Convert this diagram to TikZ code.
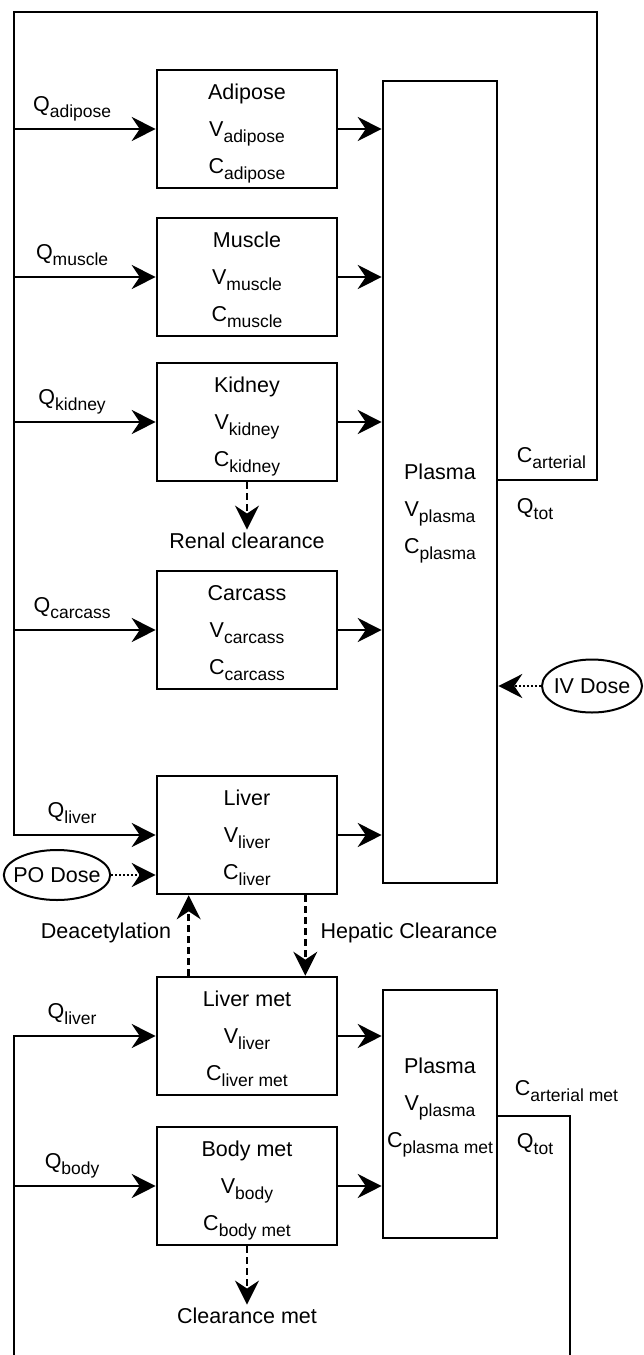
\documentclass[tikz,border=0pt]{standalone}
\usepackage{fontspec}
\setmainfont{Liberation Sans}
\usetikzlibrary{arrows.meta,shapes.geometric}
\newcommand{\sbs}[1]{\raisebox{-6pt}{\fontsize{17.5}{17.5}\selectfont #1}}
\begin{document}
\begin{tikzpicture}[x=1pt,y=-1pt,font=\fontsize{21.5}{37}\selectfont,
    organ/.style={draw,line width=2.6pt,minimum width=180pt,minimum height=118pt,align=center,inner sep=0pt,text depth=0pt},
    wire/.style={line width=2.6pt},
    flow/.style={line width=2.6pt,-{Stealth[length=24pt,width=24pt,inset=8pt]}},
    dflow/.style={flow,dash pattern=on 7pt off 4pt},
    pflow/.style={flow,line width=2pt,dash pattern=on 2pt off 2pt},
    dose/.style={draw,ellipse,line width=2pt,inner xsep=-6pt,inner ysep=0pt},
    qlab/.style={pos=.41,anchor=base,yshift=18pt}]
    \useasboundingbox (0,0) rectangle (644,1355);
    % compartments
    \node[organ] (adipose) at (247,129) {Adipose\\V\sbs{adipose}\\C\sbs{adipose}};
    \node[organ] (muscle) at (247,277) {Muscle\\V\sbs{muscle}\\C\sbs{muscle}};
    \node[organ] (kidney) at (247,422) {Kidney\\V\sbs{kidney}\\C\sbs{kidney}};
    \node[organ] (carcass) at (247,630) {Carcass\\V\sbs{carcass}\\C\sbs{carcass}};
    \node[organ] (liver) at (247,835) {Liver\\V\sbs{liver}\\C\sbs{liver}};
    \node[organ] (livermet) at (247,1036) {Liver met\\V\sbs{liver}\\C\sbs{liver met}};
    \node[organ] (bodymet) at (247,1186) {Body met\\V\sbs{body}\\C\sbs{body met}};
    \node[organ,minimum width=114pt,minimum height=802pt] (plasma) at (440,482) {};
    \node[align=center] (plasmatxt) at (440,514) {Plasma\\V\sbs{plasma}\\C\sbs{plasma}};
    \node[organ,minimum width=114pt,minimum height=248pt] (plasmamet) at (440,1114) {};
    \node[align=center] (plasmamettxt) at (440,1108) {Plasma\\V\sbs{plasma}\\C\sbs{plasma met}};
    \node[dose,minimum width=100pt,minimum height=53pt] (ivdose) at (592,686) {IV Dose};
    \node[dose,minimum width=104pt,minimum height=50pt] (podose) at (57,875) {PO Dose};
    \node (renal) at (247,541) {Renal clearance};
    \node (clearmet) at (247,1316) {Clearance met};
    \node (deacet) at (106,933) {Deacetylation};
    \node (hepatic) at (409,933) {Hepatic Clearance};
    % loop corners
    \coordinate (tl) at (14,12);
    \coordinate (tr) at (597,12);
    \coordinate (art) at (597,480);
    \coordinate (bl) at (14,1355);
    \coordinate (br) at (570,1355);
    \coordinate (artm) at (570,1116);
    % parent circulation
    \draw[flow] (plasma.east |- art)
        node[anchor=base west,xshift=14pt,yshift=18pt] {C\sbs{arterial}}
        node[anchor=base west,xshift=14pt,yshift=-33pt] {Q\sbs{tot}}
        -- (art) -- (tr) -- (tl) -- (tl |- liver.west) -- node[qlab] {Q\sbs{liver}} (liver.west);
    \draw[flow] (tl |- adipose.west) -- node[qlab] {Q\sbs{adipose}} (adipose.west);
    \draw[flow] (tl |- muscle.west) -- node[qlab] {Q\sbs{muscle}} (muscle.west);
    \draw[flow] (tl |- kidney.west) -- node[qlab] {Q\sbs{kidney}} (kidney.west);
    \draw[flow] (tl |- carcass.west) -- node[qlab] {Q\sbs{carcass}} (carcass.west);
    \draw[flow] (adipose.east) -- (adipose.east -| plasma.west);
    \draw[flow] (muscle.east) -- (muscle.east -| plasma.west);
    \draw[flow] (kidney.east) -- (kidney.east -| plasma.west);
    \draw[flow] (carcass.east) -- (carcass.east -| plasma.west);
    \draw[flow] (liver.east) -- (liver.east -| plasma.west);
    % metabolite circulation
    \draw[wire] (plasmamet.east |- artm)
        node[anchor=base west,xshift=12pt,yshift=21pt] {C\sbs{arterial met}}
        node[anchor=base west,xshift=14pt,yshift=-32pt] {Q\sbs{tot}}
        -- (artm) -- (br);
    \draw[flow] (bl) -- (bl |- livermet.west) -- node[qlab] {Q\sbs{liver}} (livermet.west);
    \draw[flow] (bl |- bodymet.west) -- node[qlab] {Q\sbs{body}} (bodymet.west);
    \draw[flow] (livermet.east) -- (livermet.east -| plasmamet.west);
    \draw[flow] (bodymet.east) -- (bodymet.east -| plasmamet.west);
    % clearance and conversion
    \draw[dflow] (kidney.south) -- (renal.north);
    \draw[dflow] (bodymet.south) -- (clearmet.north);
    \draw[dflow] ([xshift=33pt]livermet.north west) -- ([xshift=33pt]liver.south west);
    \draw[dflow] ([xshift=-33pt]liver.south east) -- ([xshift=-33pt]livermet.north east);
    % dosing
    \draw[pflow] (ivdose.west) -- (ivdose.west -| plasma.east);
    \draw[pflow] (podose.east) -- (podose.east -| liver.west);
\end{tikzpicture}
\end{document}
